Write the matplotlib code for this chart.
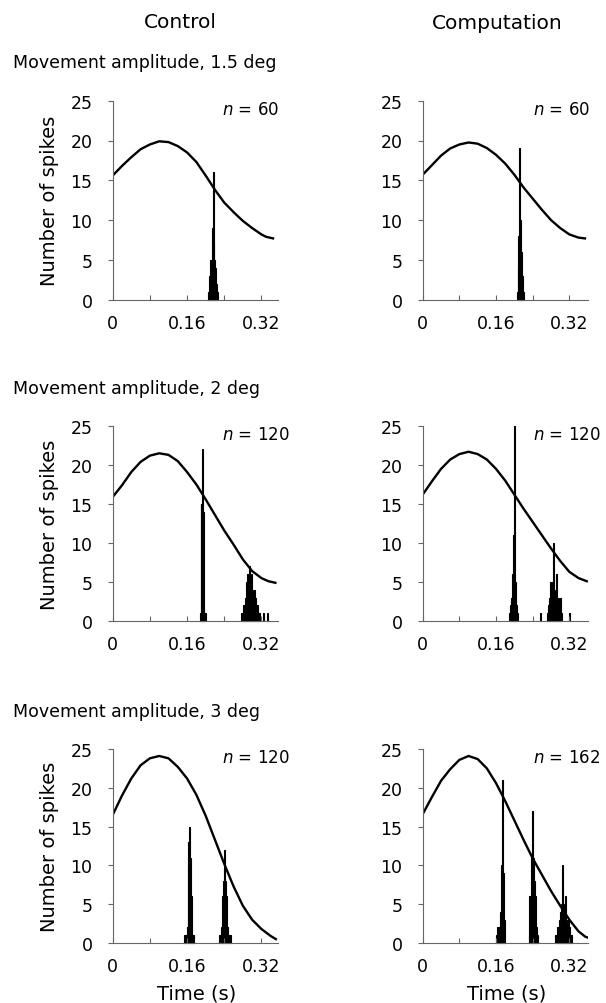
import matplotlib.pyplot as plt

# ---- movement trace, time in s ----
c15_tt = [0, 0.02, 0.04, 0.06, 0.08, 0.10, 0.12, 0.14, 0.16, 0.18, 0.20, 0.22, 0.24,
          0.26, 0.28, 0.30, 0.32, 0.33, 0.345]
c15_tv = [15.6, 16.8, 17.9, 18.9, 19.5, 19.9, 19.8, 19.3, 18.5, 17.3, 15.6, 13.8, 12.2,
          11.0, 9.9, 9.0, 8.2, 7.9, 7.7]
p15_tt = [0, 0.02, 0.04, 0.06, 0.08, 0.10, 0.12, 0.14, 0.16, 0.18, 0.20, 0.22, 0.24,
          0.26, 0.28, 0.30, 0.32, 0.34, 0.354]
p15_tv = [15.7, 16.9, 18.1, 19.0, 19.5, 19.75, 19.6, 19.05, 18.2, 17.1, 15.7, 14.1, 12.7,
          11.3, 10.0, 9.0, 8.2, 7.8, 7.7]
c2_tt = [0, 0.02, 0.04, 0.06, 0.08, 0.10, 0.12, 0.14, 0.16, 0.18, 0.20, 0.22, 0.24,
         0.26, 0.28, 0.30, 0.32, 0.335, 0.35]
c2_tv = [15.9, 17.4, 19.1, 20.4, 21.2, 21.5, 21.3, 20.5, 19.1, 17.5, 15.6, 13.6, 11.6,
         9.8, 7.9, 6.4, 5.5, 5.1, 4.9]
p2_tt = [0, 0.02, 0.04, 0.06, 0.08, 0.10, 0.12, 0.14, 0.16, 0.18, 0.20, 0.22, 0.24,
         0.26, 0.28, 0.30, 0.32, 0.34, 0.358]
p2_tv = [16.2, 17.9, 19.5, 20.7, 21.4, 21.7, 21.4, 20.7, 19.5, 18.0, 16.2, 14.4, 12.7,
         11.0, 9.3, 7.7, 6.3, 5.5, 5.1]
c3_tt = [0, 0.02, 0.04, 0.06, 0.08, 0.10, 0.12, 0.14, 0.16, 0.18, 0.20, 0.22, 0.24,
         0.26, 0.28, 0.30, 0.32, 0.34, 0.351]
c3_tv = [16.5, 19.0, 21.2, 22.9, 23.8, 24.1, 23.8, 22.7, 21.2, 19.1, 16.4, 13.3, 10.2,
         7.3, 4.8, 3.0, 1.8, 0.9, 0.5]
p3_tt = [0, 0.02, 0.04, 0.06, 0.08, 0.10, 0.12, 0.14, 0.16, 0.18, 0.20, 0.22, 0.24,
         0.26, 0.28, 0.30, 0.32, 0.34, 0.355, 0.365]
p3_tv = [16.6, 18.8, 20.9, 22.4, 23.6, 24.1, 23.7, 22.5, 20.6, 18.3, 15.8, 13.3, 10.9,
         8.8, 6.7, 4.8, 3.0, 1.5, 0.8, 0.6]

# ---- spike histograms, 2 ms bins (bin centre, count) ----
c15_bt = [0.206, 0.208, 0.210, 0.212, 0.214, 0.216, 0.218, 0.220, 0.222, 0.224, 0.226]
c15_bn = [1, 3, 5, 5, 9, 16, 7, 5, 4, 2, 1]
p15_bt = [0.206, 0.208, 0.210, 0.212, 0.214, 0.216, 0.218, 0.220]
p15_bn = [1, 4, 8, 19, 10, 6, 3, 1]
c2_bt = [0.188, 0.190, 0.192, 0.194, 0.196, 0.198, 0.200,
         0.278, 0.280, 0.282, 0.284, 0.286, 0.288, 0.290, 0.292, 0.294, 0.296,
         0.298, 0.300, 0.302, 0.304, 0.306, 0.308, 0.310, 0.312, 0.314, 0.316,
         0.324, 0.334]
c2_bn = [1, 15, 15, 22, 14, 1, 1,
         1, 1, 2, 2, 3, 5, 6, 5, 7, 5,
         6, 4, 3, 4, 4, 3, 2, 2, 1, 1,
         1, 1]
p2_bt = [0.190, 0.192, 0.194, 0.196, 0.198, 0.200, 0.202, 0.204, 0.206,
         0.258, 0.272, 0.274, 0.276, 0.278, 0.280, 0.282, 0.284, 0.286, 0.288,
         0.290, 0.292, 0.294, 0.296, 0.298, 0.300, 0.302, 0.320]
p2_bn = [1, 2, 3, 6, 11, 25, 5, 2, 1,
         1, 1, 2, 3, 5, 4, 3, 5, 10, 3,
         4, 6, 3, 3, 2, 3, 1, 1]
c3_bt = [0.154, 0.156, 0.158, 0.160, 0.162, 0.164, 0.166, 0.168, 0.170, 0.172, 0.174,
         0.230, 0.232, 0.234, 0.236, 0.238, 0.240, 0.242, 0.244, 0.246, 0.248,
         0.250, 0.252, 0.254]
c3_bn = [1, 1, 1, 2, 10, 13, 15, 11, 6, 1, 1,
         1, 1, 2, 6, 8, 12, 8, 6, 2, 1,
         1, 1, 1]
p3_bt = [0.162, 0.164, 0.166, 0.168, 0.170, 0.172, 0.174, 0.176, 0.178,
         0.232, 0.234, 0.236, 0.238, 0.240, 0.242, 0.244, 0.246, 0.248, 0.250,
         0.290, 0.292, 0.294, 0.296, 0.298, 0.300, 0.302, 0.304, 0.306, 0.308,
         0.310, 0.312, 0.314, 0.316, 0.318, 0.320, 0.322, 0.324]
p3_bn = [1, 2, 2, 2, 4, 10, 21, 9, 3,
         1, 6, 6, 11, 17, 11, 8, 6, 2, 1,
         1, 1, 2, 2, 3, 4, 5, 4, 10, 5,
         3, 6, 2, 3, 3, 2, 1, 1]

n_trials = [[60, 60], [120, 120], [120, 162]]
amplitudes = ["1.5", "2", "3"]
col_titles = ["Control", "Computation"]

panels = [[(c15_tt, c15_tv, c15_bt, c15_bn), (p15_tt, p15_tv, p15_bt, p15_bn)],
          [(c2_tt, c2_tv, c2_bt, c2_bn), (p2_tt, p2_tv, p2_bt, p2_bn)],
          [(c3_tt, c3_tv, c3_bt, c3_bn), (p3_tt, p3_tv, p3_bt, p3_bn)]]

W, H = 606, 1004
fig = plt.figure(figsize=(W / 100, H / 100), dpi=100)

# pixel layout measured on the reference
col_x = [112.7, 422.7]
col_xmax = [0.355, 0.36]
row_y0 = [300.7, 622, 944]      # pixel row of y = 0
row_y25 = [101.7, 427, 750]     # pixel row of y = 25
n_x = [0.66, 0.67]
ax_w = 165

for r in range(3):
    for c in range(2):
        tt, tv, bt, bn = panels[r][c]
        ax = fig.add_axes([col_x[c] / W, 1 - row_y0[r] / H,
                           ax_w / W, (row_y0[r] - row_y25[r]) / H])
        ax.bar(bt, bn, width=0.002, color="black", edgecolor="black",
               linewidth=0.8, clip_on=False)
        ax.plot(tt, tv, color="black", lw=1.7, solid_joinstyle="round")
        ax.set_xlim(0, col_xmax[c])
        ax.set_ylim(0, 25)
        ax.set_yticks([0, 5, 10, 15, 20, 25])
        ax.set_xticks([0, 0.08, 0.16, 0.24, 0.32])
        ax.set_xticklabels(["0", "", "0.16", "", "0.32"])
        for s in ["top", "right"]:
            ax.spines[s].set_visible(False)
        for s in ["left", "bottom"]:
            ax.spines[s].set_color("0.4")
            ax.spines[s].set_linewidth(0.8)
        ax.tick_params(axis="y", direction="out", length=3.5, width=0.8,
                       color="0.4", pad=11, labelsize=12.5)
        ax.tick_params(axis="x", direction="in", length=3.5, width=0.8,
                       color="0.4", pad=10, labelsize=12.5)
        ax.text(n_x[c], 0.934, "$n$ = %d" % n_trials[r][c], transform=ax.transAxes,
                ha="left", va="baseline", fontsize=12)

    # row heading and y label
    fig.text(13 / W, 1 - (row_y25[r] - 33.4) / H,
             "Movement amplitude, %s deg" % amplitudes[r],
             ha="left", va="baseline", fontsize=12.5)
    fig.text(49.7 / W, 1 - (row_y0[r] + row_y25[r]) / 2 / H, "Number of spikes",
             rotation=90, ha="center", va="center", fontsize=14)

fig.text(180 / W, 1 - 28.3 / H, col_titles[0], ha="center", va="baseline", fontsize=14.5)
fig.text(497 / W, 1 - 29.3 / H, col_titles[1], ha="center", va="baseline", fontsize=14.5)
fig.text(197 / W, 1 - 999.3 / H, "Time (s)", ha="center", va="baseline", fontsize=14)
fig.text(507 / W, 1 - 999.3 / H, "Time (s)", ha="center", va="baseline", fontsize=14)

fig.savefig("out.png", dpi=100)
